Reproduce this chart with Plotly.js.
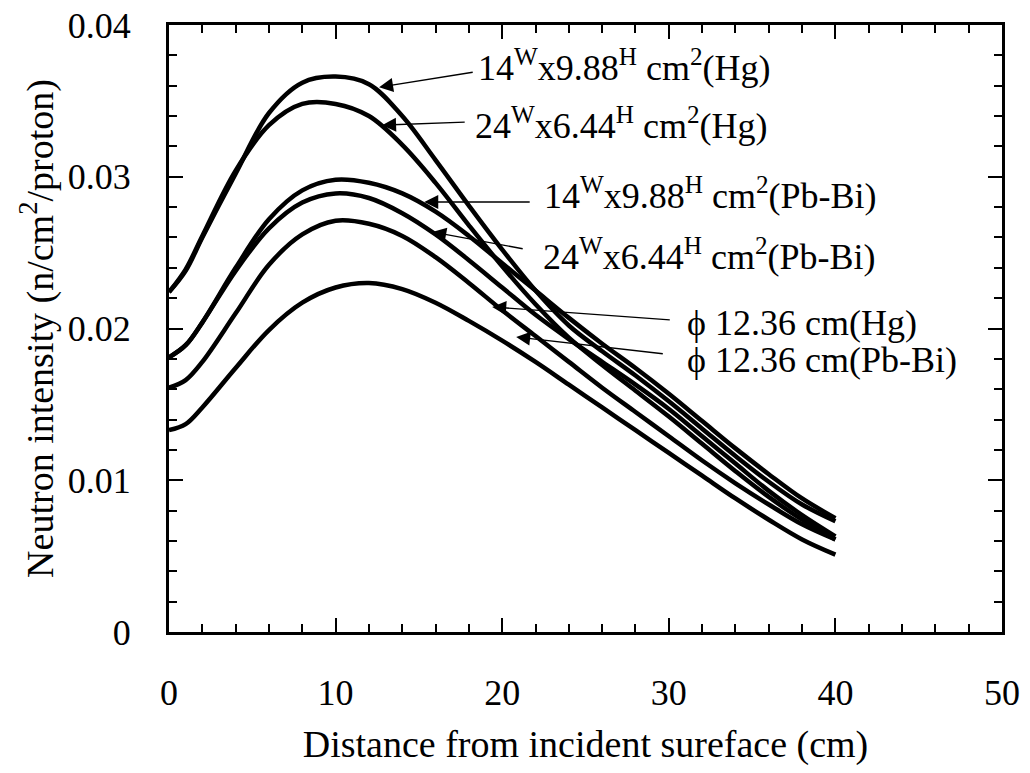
<!DOCTYPE html>
<html><head><meta charset="utf-8">
<script src="https://cdn.plot.ly/plotly-3.0.1.min.js"></script>
<style>html,body{margin:0;padding:0;background:#fff}</style>
</head><body><div id="chart" style="width:1030px;height:773px"></div>
<script>
// Distance from incident surface (cm)
const distance = [0,1,2,4,6,8,10,12,14,16,18,20,22,24,26,28,30,32,34,36,38,40];
// Neutron intensity (n/cm^2/proton)
const hgRect14 = [0.0224,0.0238,0.0260,0.0302,0.0342,0.0362,0.0366,0.0361,0.0340,0.0311,0.0281,0.0252,0.0225,0.0202,0.0185,0.0169,0.0152,0.0134,0.0116,0.0099,0.0084,0.0073];
const hgRect24 = [0.0224,0.0239,0.0261,0.0304,0.0334,0.0348,0.0348,0.0340,0.0321,0.0296,0.0268,0.0241,0.0216,0.0194,0.0176,0.0159,0.0142,0.0124,0.0106,0.0089,0.0074,0.0061];
const pbRect14 = [0.0181,0.0189,0.0204,0.0240,0.0272,0.0291,0.0298,0.0296,0.0289,0.0277,0.0261,0.0243,0.0225,0.0207,0.0190,0.0174,0.0157,0.0139,0.0121,0.0104,0.0088,0.0075];
const pbRect24 = [0.0181,0.0189,0.0204,0.0238,0.0266,0.0283,0.0289,0.0286,0.0276,0.0262,0.0245,0.0227,0.0209,0.0193,0.0178,0.0163,0.0147,0.0129,0.0111,0.0093,0.0077,0.0063];
const hgCyl = [0.0161,0.0166,0.0178,0.0210,0.0242,0.0262,0.0271,0.0269,0.0261,0.0247,0.0230,0.0212,0.0195,0.0178,0.0161,0.0145,0.0129,0.0113,0.0098,0.0084,0.0071,0.0061];
const pbCyl = [0.0133,0.0137,0.0148,0.0174,0.0199,0.0217,0.0227,0.0230,0.0226,0.0217,0.0205,0.0192,0.0178,0.0163,0.0148,0.0133,0.0118,0.0103,0.0088,0.0074,0.0061,0.0051];
const seriesNames = ['14Wx9.88H cm2(Hg)','24Wx6.44H cm2(Hg)','14Wx9.88H cm2(Pb-Bi)','24Wx6.44H cm2(Pb-Bi)','ϕ 12.36 cm(Hg)','ϕ 12.36 cm(Pb-Bi)'];
const seriesValues = [hgRect14, hgRect24, pbRect14, pbRect24, hgCyl, pbCyl];
const labelTexts = [
  '14<sup>W</sup>x9.88<sup>H</sup> cm<sup>2</sup>(Hg)',
  '24<sup>W</sup>x6.44<sup>H</sup> cm<sup>2</sup>(Hg)',
  '14<sup>W</sup>x9.88<sup>H</sup> cm<sup>2</sup>(Pb-Bi)',
  '24<sup>W</sup>x6.44<sup>H</sup> cm<sup>2</sup>(Pb-Bi)',
  'ϕ 12.36 cm(Hg)',
  'ϕ 12.36 cm(Pb-Bi)'
];
const xTicks = [0,10,20,30,40,50];
const yTicks = [0,0.01,0.02,0.03,0.04];
const yTickText = ['0','0.01','0.02','0.03','0.04'];

const traces = seriesValues.map((vals, i) => ({
  type:'scatter', mode:'lines', name: seriesNames[i],
  x: distance, y: vals,
  line:{color:'#000', width:4.5, shape:'spline', smoothing:1}
}));

// label placement (text left/middle) and arrow tail/tip, in data coordinates
const labelPos = [[18.4,0.0373],[18.25,0.0335],[22.4,0.0289],[22.35,0.0249],[31.0,0.02035],[31.0,0.0179]];
const arrowTail = [[18.32,0.0369],[17.84,0.0336],[21.74,0.02834],[21.32,0.02524],[30.15,0.02056],[29.73,0.01832]];
const arrowTip = [[12.61,0.0359],[12.79,0.0334],[15.32,0.02834],[15.8,0.02636],[19.4,0.02142],[20.84,0.01944]];

const annotations = [];
labelTexts.forEach((t,i) => {
  annotations.push({xref:'x', yref:'y', x:labelPos[i][0], y:labelPos[i][1], text:t, showarrow:false,
    xanchor:'left', yanchor:'middle', font:{size:36, color:'#000'}});
  annotations.push({xref:'x', yref:'y', axref:'x', ayref:'y', x:arrowTip[i][0], y:arrowTip[i][1],
    ax:arrowTail[i][0], ay:arrowTail[i][1], text:'', showarrow:true, arrowhead:2, arrowsize:2,
    arrowwidth:1.4, arrowcolor:'#000', standoff:0, startstandoff:0});
});

const layout = {
  width:1030, height:773,
  margin:{l:169, r:28, t:25, b:141},
  paper_bgcolor:'#fff', plot_bgcolor:'#fff',
  showlegend:false,
  font:{family:'"Liberation Serif", "Times New Roman", serif', color:'#000', size:36},
  xaxis:{range:[0,50], tickvals:xTicks, ticks:'inside', ticklen:14, tickwidth:2, tickcolor:'#000',
    showline:true, linewidth:3, linecolor:'#000', mirror:'ticks', showgrid:false, zeroline:false,
    minor:{dtick:2, ticks:'inside', ticklen:8, tickwidth:2, tickcolor:'#000', showgrid:false},
    tickfont:{size:36}, ticklabelstandoff:27,
    title:{text:'Distance from incident sureface (cm)', font:{size:38}, standoff:19}},
  yaxis:{range:[0,0.04], tickvals:yTicks, ticktext:yTickText, ticks:'inside', ticklen:14, tickwidth:2, tickcolor:'#000',
    showline:true, linewidth:3, linecolor:'#000', mirror:'ticks', showgrid:false, zeroline:false,
    minor:{dtick:0.002, ticks:'inside', ticklen:8, tickwidth:2, tickcolor:'#000', showgrid:false},
    tickfont:{size:36}, ticklabelstandoff:28,
    title:{text:'Neutron intensity (n/cm<sup>2</sup>/proton)', font:{size:38}, standoff:3}},
  annotations: annotations
};
Plotly.newPlot('chart', traces, layout, {displayModeBar:false, staticPlot:true});
</script></body></html>
